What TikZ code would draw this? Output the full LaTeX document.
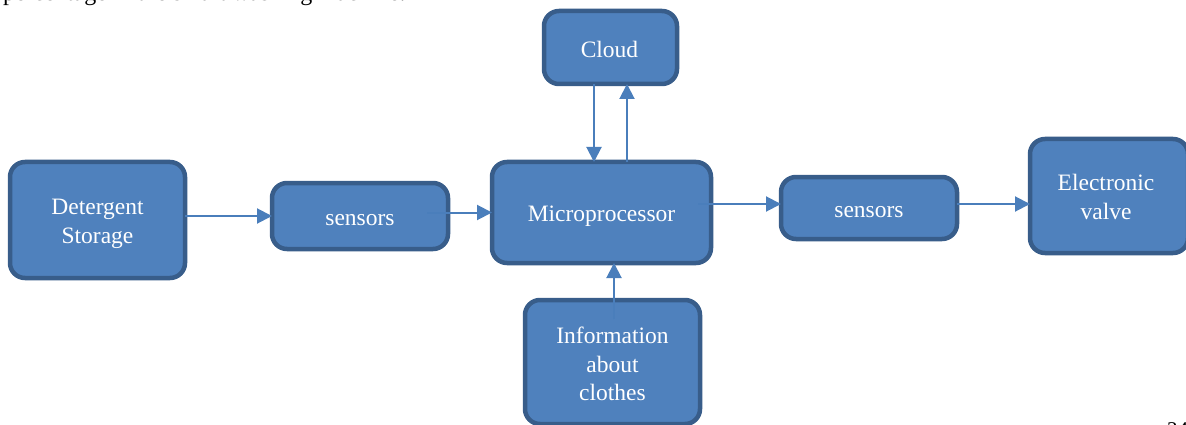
\documentclass[tikz,border=0pt]{standalone}
\usepackage{fontspec}
\setmainfont{Liberation Serif}
\usetikzlibrary{arrows.meta,calc}
\definecolor{boxfill}{HTML}{4F81BD}
\definecolor{boxline}{HTML}{385D8A}
\definecolor{arrowblue}{HTML}{4A7EBB}
\tikzset{
  blk/.style={draw=boxline, fill=boxfill, line width=4.5pt, rounded corners=15pt,
    inner sep=0pt, outer sep=0pt},
  lbl/.style={text=white, align=center, inner sep=0pt, outer sep=0pt,
    font=\fontsize{23.5}{28.5}\selectfont},
  arr/.style={draw=arrowblue, line width=2pt,
    -{Triangle[length=15pt,width=15pt]}},
  pagetext/.style={inner sep=0pt, outer sep=0pt, text=black,
    font=\fontsize{24}{28}\selectfont}
}
\begin{document}
\begin{tikzpicture}[x=1pt,y=-1pt]
\useasboundingbox (0,0) rectangle (1186,425);
\fill[white] (0,0) rectangle (1186,425);
\clip (0,0) rectangle (1186,425);

% running text of the page around the figure
\node[pagetext, anchor=base west] (head) at (3,1) {percentage in the smart washing machine.};
\node[pagetext, anchor=base west, font=\fontsize{21}{24}\selectfont] (pageno) at (1167,436) {34};

% blocks
\node[blk, minimum width=175pt, minimum height=116pt] (ds) at (97.5,220) {};
\node[blk, minimum width=176pt, minimum height=66pt] (s1) at (360,216) {};
\node[blk, minimum width=219pt, minimum height=101pt] (mp) at (601.5,212.5) {};
\node[blk, minimum width=133pt, minimum height=73pt] (cl) at (610.5,47.5) {};
\node[blk, minimum width=175pt, minimum height=124pt] (info) at (612.5,362) {};
\node[blk, minimum width=176pt, minimum height=62pt] (s2) at (869,208) {};
\node[blk, minimum width=158pt, minimum height=114pt] (ev) at (1109,196) {};

% block texts
\node[lbl] (dsT) at ($(ds)+(0,4)$) {Detergent\\Storage};
\node[lbl] (s1T) at ($(s1)+(0,4)$) {sensors};
\node[lbl] (mpT) at ($(mp)+(0,4)$) {Microprocessor};
\node[lbl] (clT) at ($(cl)+(-1,2)$) {Cloud};
\node[lbl] (infoT) at ($(info)+(0,2)$) {Information\\about\\clothes};
\node[lbl] (s2T) at ($(s2)+(0,4)$) {sensors};
\node[lbl] (evT) at ($(ev)+(-3,1)$) {Electronic\\valve};

% connectors
\draw[arr] (ds.east |- s1.west) -- (s1.west);
\coordinate (s1out) at ($(s1.east |- mp.west)+(-21,0)$);
\draw[arr] (s1out) -- (mp.west);
\coordinate (mpout) at ($(mp.east |- s2.west)+(-13,-4)$);
\draw[arr] (mpout) -- (mpout -| s2.west);
\coordinate (s2out) at ($(s2.east)+(0,-4)$);
\draw[arr] (s2out) -- (s2out -| ev.west);
\coordinate (cldown) at ($(cl.south)+(-16.5,0)$);
\draw[arr] (cldown) -- (cldown |- mp.north);
\coordinate (clup) at ($(mp.north)+(25.5,0)$);
\draw[arr] (clup) -- (clup |- cl.south);
\coordinate (infoup) at ($(info.north)+(1.5,19)$);
\draw[arr] (infoup) -- (infoup |- mp.south);
\end{tikzpicture}
\end{document}
